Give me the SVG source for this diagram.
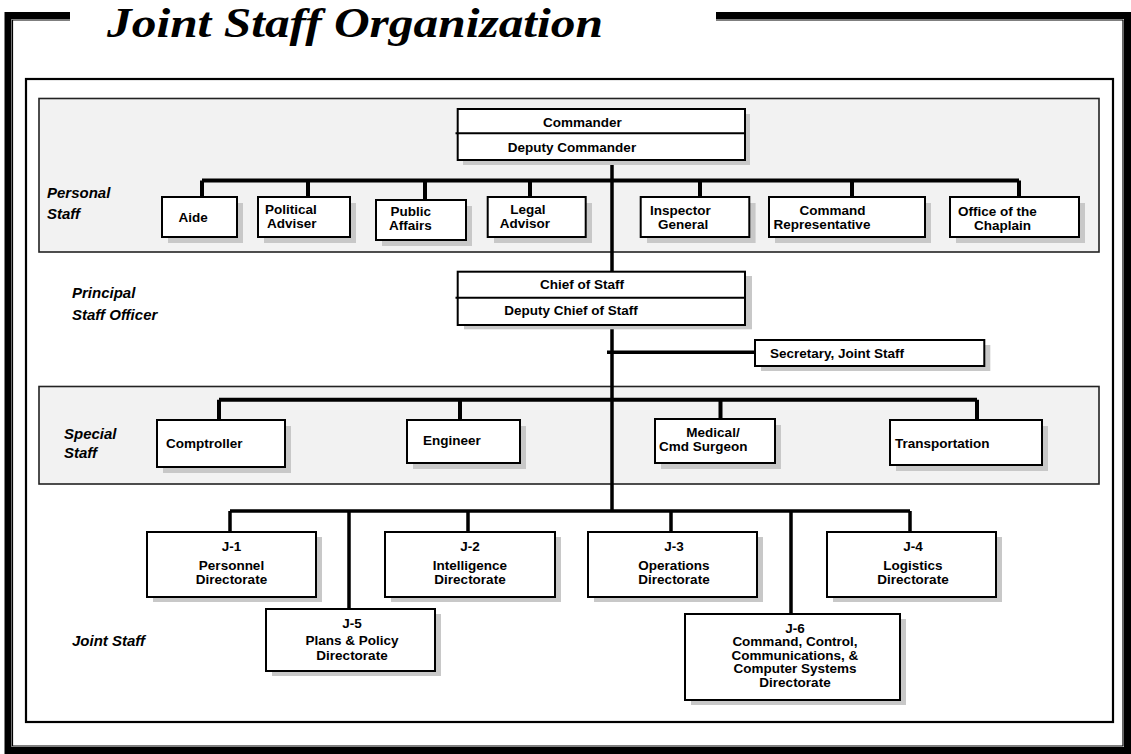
<svg xmlns="http://www.w3.org/2000/svg" width="1131" height="754" viewBox="0 0 1131 754">
  <style>
    .frame { fill: none; stroke: #000; }
    .panel { fill: #f2f2f2; stroke: #222; stroke-width: 1.6; }
    .shadow { fill: #c8c8c8; }
    .box { fill: #fff; stroke: #000; stroke-width: 2; }
    .div { stroke: #000; stroke-width: 2; }
    .wire { fill: none; stroke: #000; stroke-width: 4; stroke-linecap: butt; }
    .thin { stroke-width: 3.5; }
    text { font-family: "Liberation Sans", Arial, sans-serif; font-weight: bold; font-size: 13.5px; fill: #000; }
    .c { text-anchor: middle; }
    .lbl { font-style: italic; font-size: 15px; }
    .title { font-family: "Liberation Serif", "Times New Roman", serif; font-style: italic; font-weight: bold; font-size: 41.5px; }
  </style>

  <!-- page frame and title -->
  <g id="frame">
    <path class="frame" d="M70,15.5 H8 V750.5 H1127.5 V15.5 H716" stroke-width="7"/>
    <path class="frame" d="M70,20 H12.5 V746 H1123 V20 H716" stroke="#9a9a9a" stroke-width="1.2"/>
    <rect class="frame" x="26" y="79" width="1087" height="643" stroke-width="2.2"/>
    <text class="title" x="107" y="37" textLength="496" lengthAdjust="spacingAndGlyphs">Joint Staff Organization</text>
  </g>

  <!-- shaded bands -->
  <g id="bands">
    <rect class="panel" x="39" y="98.5" width="1060" height="153.5"/>
    <rect class="panel" x="39" y="386.5" width="1060" height="97.5"/>
  </g>

  <!-- tier labels -->
  <g id="labels">
    <text class="lbl" x="47" y="198">Personal</text>
    <text class="lbl" x="47" y="219">Staff</text>
    <text class="lbl" x="72" y="298">Principal</text>
    <text class="lbl" x="72" y="320">Staff Officer</text>
    <text class="lbl" x="64" y="439">Special</text>
    <text class="lbl" x="64" y="458">Staff</text>
    <text class="lbl" x="72" y="646">Joint Staff</text>
  </g>

  <!-- reporting lines -->
  <g id="connectors">
    <path class="wire thin" d="M612,160 V511"/>
    <path class="wire" d="M202,180.5 H1019"/>
    <path class="wire" d="M202,180.5 V197 M308,180.5 V197 M425,180.5 V200 M530,180.5 V197 M700,180.5 V197 M852,180.5 V197 M1019,180.5 V197"/>
    <path class="wire thin" d="M607,352.3 H755"/>
    <path class="wire" d="M219,399.7 H977"/>
    <path class="wire" d="M219,399.7 V420 M460,399.7 V420 M720.5,399.7 V419 M977,399.7 V420"/>
    <path class="wire thin" d="M230,511 H910"/>
    <path class="wire thin" d="M230,511 V532 M349,511 V609 M468,511 V532 M671,511 V532 M791,511 V614 M910,511 V532"/>
  </g>

  <!-- command group -->
  <g id="commander">
    <rect class="shadow" x="463" y="114" width="287" height="51"/>
    <rect class="box" x="457.7" y="109" width="287.3" height="51"/>
    <line class="div" x1="455.5" y1="133.3" x2="745" y2="133.3"/>
    <text class="c" x="582.5" y="126.7">Commander</text>
    <text class="c" x="572" y="152.3">Deputy Commander</text>
  </g>

  <!-- personal staff -->
  <g id="aide">
    <rect class="shadow" x="168" y="203" width="75" height="40"/>
    <rect class="box" x="162" y="197" width="75" height="40"/>
    <text x="178.5" y="222">Aide</text>
  </g>
  <g id="political-adviser">
    <rect class="shadow" x="264" y="203" width="92" height="40"/>
    <rect class="box" x="258" y="197" width="92" height="40"/>
    <text x="265" y="214">Political</text>
    <text x="267" y="228">Adviser</text>
  </g>
  <g id="public-affairs">
    <rect class="shadow" x="382" y="206" width="90" height="40"/>
    <rect class="box" x="376" y="200" width="90" height="40"/>
    <text x="390.5" y="216">Public</text>
    <text x="389" y="230">Affairs</text>
  </g>
  <g id="legal-advisor">
    <rect class="shadow" x="494" y="203" width="98" height="40"/>
    <rect class="box" x="487.7" y="197" width="98" height="40"/>
    <text class="c" x="528" y="214">Legal</text>
    <text class="c" x="525" y="228">Advisor</text>
  </g>
  <g id="inspector-general">
    <rect class="shadow" x="647" y="203" width="108.6" height="40"/>
    <rect class="box" x="640.7" y="197" width="108.6" height="40"/>
    <text x="650" y="214.5">Inspector</text>
    <text x="658" y="228.5">General</text>
  </g>
  <g id="command-representative">
    <rect class="shadow" x="775" y="203" width="156" height="40"/>
    <rect class="box" x="769" y="197" width="156" height="40"/>
    <text class="c" x="832.6" y="214.5">Command</text>
    <text class="c" x="822" y="228.5">Representative</text>
  </g>
  <g id="chaplain">
    <rect class="shadow" x="956" y="203" width="129" height="40"/>
    <rect class="box" x="950" y="197" width="129" height="40"/>
    <text x="958" y="216">Office of the</text>
    <text x="974" y="230">Chaplain</text>
  </g>

  <!-- principal staff officer -->
  <g id="chief-of-staff">
    <rect class="shadow" x="464" y="276" width="288" height="53.3"/>
    <rect class="box" x="457.7" y="271.7" width="287.3" height="53.3"/>
    <line class="div" x1="455.5" y1="297.7" x2="745" y2="297.7"/>
    <text class="c" x="582" y="289.3">Chief of Staff</text>
    <text class="c" x="571" y="315">Deputy Chief of Staff</text>
  </g>
  <g id="secretary">
    <rect class="shadow" x="761" y="345" width="229.3" height="26"/>
    <rect class="box" x="755" y="340" width="229.3" height="26"/>
    <text x="770" y="357.7">Secretary, Joint Staff</text>
  </g>

  <!-- special staff -->
  <g id="comptroller">
    <rect class="shadow" x="163" y="426" width="128" height="47"/>
    <rect class="box" x="157" y="420" width="128" height="47"/>
    <text x="166" y="448">Comptroller</text>
  </g>
  <g id="engineer">
    <rect class="shadow" x="413" y="426" width="113" height="43"/>
    <rect class="box" x="407" y="420" width="113" height="43"/>
    <text x="423" y="445">Engineer</text>
  </g>
  <g id="medical">
    <rect class="shadow" x="661" y="425" width="120" height="44"/>
    <rect class="box" x="655" y="419" width="120" height="44"/>
    <text class="c" x="713" y="437">Medical/</text>
    <text x="659" y="451">Cmd Surgeon</text>
  </g>
  <g id="transportation">
    <rect class="shadow" x="896" y="426" width="152" height="45"/>
    <rect class="box" x="890" y="420" width="152" height="45"/>
    <text x="895" y="448.3">Transportation</text>
  </g>

  <!-- joint staff directorates -->
  <g id="j1">
    <rect class="shadow" x="153" y="537" width="169" height="65"/>
    <rect class="box" x="147" y="532" width="169" height="65"/>
    <text class="c" x="231.5" y="551">J-1</text>
    <text class="c" x="231.5" y="569.5">Personnel</text>
    <text class="c" x="231.5" y="583.5">Directorate</text>
  </g>
  <g id="j2">
    <rect class="shadow" x="391" y="537" width="170" height="65"/>
    <rect class="box" x="385" y="532" width="170" height="65"/>
    <text class="c" x="470" y="551">J-2</text>
    <text class="c" x="470" y="569.5">Intelligence</text>
    <text class="c" x="470" y="583.5">Directorate</text>
  </g>
  <g id="j3">
    <rect class="shadow" x="594" y="537" width="169" height="65"/>
    <rect class="box" x="588" y="532" width="169" height="65"/>
    <text class="c" x="674" y="551">J-3</text>
    <text class="c" x="674" y="569.5">Operations</text>
    <text class="c" x="674" y="583.5">Directorate</text>
  </g>
  <g id="j4">
    <rect class="shadow" x="833" y="537" width="169" height="65"/>
    <rect class="box" x="827" y="532" width="169" height="65"/>
    <text class="c" x="913" y="551">J-4</text>
    <text class="c" x="913" y="569.5">Logistics</text>
    <text class="c" x="913" y="583.5">Directorate</text>
  </g>
  <g id="j5">
    <rect class="shadow" x="272" y="614" width="169" height="62"/>
    <rect class="box" x="266" y="609" width="169" height="62"/>
    <text class="c" x="352" y="627.5">J-5</text>
    <text class="c" x="352" y="645">Plans &amp; Policy</text>
    <text class="c" x="352" y="659.5">Directorate</text>
  </g>
  <g id="j6">
    <rect class="shadow" x="691" y="619" width="215" height="86"/>
    <rect class="box" x="685" y="614" width="215" height="86"/>
    <text class="c" x="795" y="632.5">J-6</text>
    <text class="c" x="795" y="646">Command, Control,</text>
    <text class="c" x="795" y="659.5">Communications, &amp;</text>
    <text class="c" x="795" y="673">Computer Systems</text>
    <text class="c" x="795" y="687">Directorate</text>
  </g>
</svg>
